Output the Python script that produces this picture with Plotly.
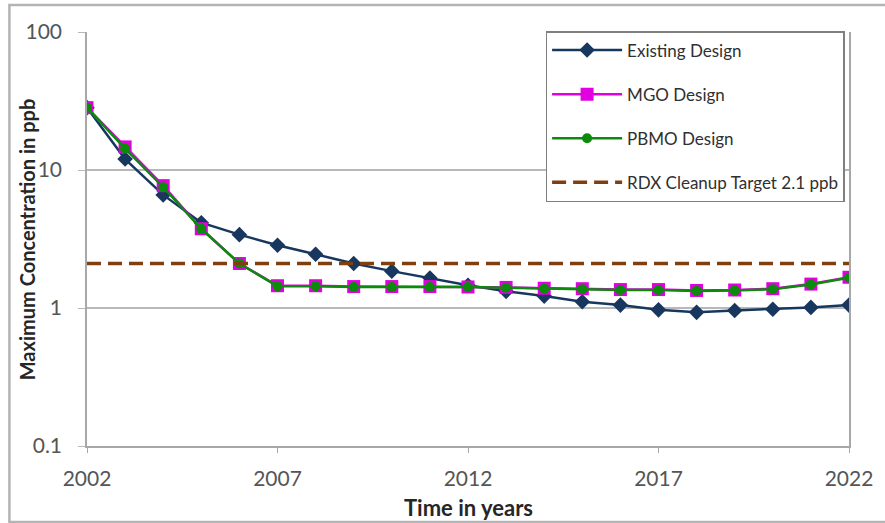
import plotly.graph_objects as go

years = list(range(2002, 2023))
existing = [28.3, 12.0, 6.6, 4.15, 3.4, 2.85, 2.45, 2.1, 1.85, 1.65, 1.46, 1.32, 1.22, 1.11, 1.05, 0.97, 0.93, 0.96, 0.98, 1.01, 1.05]
mgo = [28.3, 14.7, 7.7, 3.75, 2.1, 1.45, 1.45, 1.43, 1.43, 1.43, 1.42, 1.41, 1.39, 1.38, 1.36, 1.36, 1.34, 1.35, 1.38, 1.49, 1.67]
pbmo = [28.3, 14.3, 7.5, 3.75, 2.1, 1.44, 1.44, 1.42, 1.42, 1.42, 1.42, 1.40, 1.38, 1.37, 1.35, 1.35, 1.33, 1.34, 1.37, 1.48, 1.66]
target_value = 2.1
target = [target_value] * len(years)
x_ticks = [2002, 2007, 2012, 2017, 2022]
y_ticks = [0.1, 1, 10, 100]
y_tick_labels = ["0.1", "1", "10", "100"]

font = "Lato, 'Open Sans', sans-serif"
W, H = 885, 523
L, R, T, B = 87, 32, 32, 77
pw, ph = W - L - R, H - T - B


def px(x):
    return (x - L) / pw


def py(y):
    return (H - B - y) / ph


fig = go.Figure()
fig.add_trace(go.Scatter(x=years, y=existing, name="Existing Design", mode="lines+markers",
                         line=dict(color="#17375E", width=2.5),
                         marker=dict(symbol="diamond", size=12, color="#17375E"),
                         legendgroup="a"))
fig.add_trace(go.Scatter(x=years, y=mgo, name="MGO Design", mode="lines+markers",
                         line=dict(color="#E000E0", width=2.5),
                         marker=dict(symbol="square", size=13, color="#E000E0"),
                         legendgroup="b"))
fig.add_trace(go.Scatter(x=years, y=pbmo, name="PBMO Design", mode="lines+markers",
                         line=dict(color="#0B8A0B", width=2.5),
                         marker=dict(symbol="circle", size=10, color="#0B8A0B"),
                         legendgroup="c"))
fig.add_trace(go.Scatter(x=years, y=target, name="RDX Cleanup Target 2.1 ppb", mode="lines",
                         line=dict(color="#7F3F0F", width=3.5, dash="14px,7px"),
                         legendgroup="d"))

fig.update_layout(
    width=W, height=H,
    margin=dict(l=L, r=R, t=T, b=B),
    paper_bgcolor="white", plot_bgcolor="white",
    font=dict(family=font, size=21, color="#555555"),
    legend=dict(x=px(548), y=py(31), xanchor="left", yanchor="top",
                bordercolor="#7f7f7f", borderwidth=1.5, bgcolor="white",
                font=dict(family=font, size=17, color="#303030"),
                traceorder="grouped", tracegroupgap=19, itemwidth=70),
    xaxis=dict(range=[2002, 2022], tickvals=x_ticks, showgrid=False,
               showline=True, linecolor="#a8a8a8", linewidth=1.5,
               ticks="outside", ticklen=5, tickcolor="#a8a8a8",
               ticklabelstandoff=8, zeroline=False),
    yaxis=dict(type="log", range=[-1, 2], tickvals=y_ticks, ticktext=y_tick_labels,
               showgrid=True, gridcolor="#b8b8b8", gridwidth=1.5,
               showline=True, linecolor="#a8a8a8", linewidth=1.5, mirror=True,
               ticks="outside", ticklen=7, tickcolor="#b8b8b8",
               ticklabelstandoff=12, zeroline=False),
    annotations=[
        dict(text="<b>Time in years</b>", xref="paper", yref="paper", x=px(470), y=py(507),
             xanchor="center", yanchor="middle",
             showarrow=False, font=dict(family=font, size=22, color="#262626")),
        dict(text="<b>Maximum Concentration in ppb</b>", xref="paper", yref="paper", x=px(27), y=py(239),
             xanchor="center", yanchor="middle",
             textangle=-90, showarrow=False, font=dict(family=font, size=20, color="#262626")),
    ],
)

fig.add_shape(type="rect", xref="paper", yref="paper",
              x0=px(9), x1=px(895), y0=py(522), y1=py(5),
              line=dict(color="#b4b4b4", width=2.5), layer="below")

fig.write_html("out.html", config={"displayModeBar": False},
               post_script="document.body.style.margin='0';")
